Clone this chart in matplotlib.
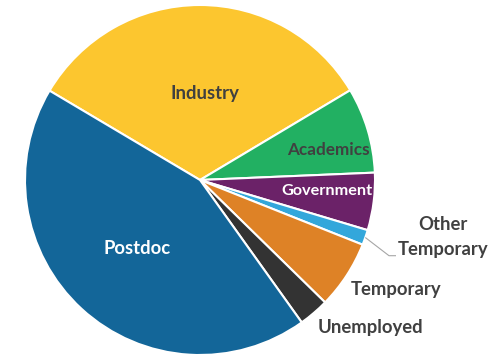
import matplotlib
matplotlib.use("Agg")
import matplotlib.pyplot as plt
import numpy as np

categories = ["Industry", "Academics", "Government", "Other\nTemporary", "Temporary", "Unemployed", "Postdoc"]
values = [32.9, 7.9, 5.3, 1.4, 6.3, 2.8, 43.4]
colors = ["#FCC62F", "#22B062", "#6B2268", "#33A7DB", "#DE8226", "#333333", "#136699"]

plt.rcParams['font.family'] = ['Lato', 'DejaVu Sans']

W, H = 496, 357
fig = plt.figure(figsize=(W / 100, H / 100), dpi=100)
ax = fig.add_axes([0, 0, 1, 1])

cx, cy, R = 200, H - 180, 175
wedges, _ = ax.pie(values, colors=colors, startangle=149.3, counterclock=False,
                   center=(cx, cy), radius=R, frame=True,
                   wedgeprops=dict(edgecolor='white', linewidth=1.5))
ax.set_xlim(0, W)
ax.set_ylim(0, H)
ax.set_aspect('equal')
ax.axis('off')

dark = "#404040"
fs = 13.3
# label positions in pixel coordinates (x, y from top), color, size
label_pos = {
    0: (205, 93, dark, fs),
    1: (328, 150, dark, 12.3),
    2: (327, 191, 'white', 11.7),
    6: (137, 249, 'white', fs),
    4: (396, 290, dark, fs),
    5: (370, 328, dark, fs),
}
for i, (x, y, col, s) in label_pos.items():
    ax.text(x, H - y, categories[i], ha='center', va='center',
            fontsize=s, fontweight='bold', color=col, zorder=5)

# Other Temporary (two lines)
ax.text(443, H - 225, "Other", ha='center', va='center', fontsize=fs,
        fontweight='bold', color=dark)
ax.text(443, H - 250, "Temporary", ha='center', va='center', fontsize=fs,
        fontweight='bold', color=dark)

# leader line from the wedge edge
w = wedges[3]
mid = np.deg2rad((w.theta1 + w.theta2) / 2)
ex, ey = cx + R * np.cos(mid), cy + R * np.sin(mid)
ax.plot([ex, 389, 396], [ey, H - 255.7, H - 255.7], color='#A6A6A6', lw=0.8,
        solid_capstyle='butt')

fig.savefig("out.png", dpi=100)
